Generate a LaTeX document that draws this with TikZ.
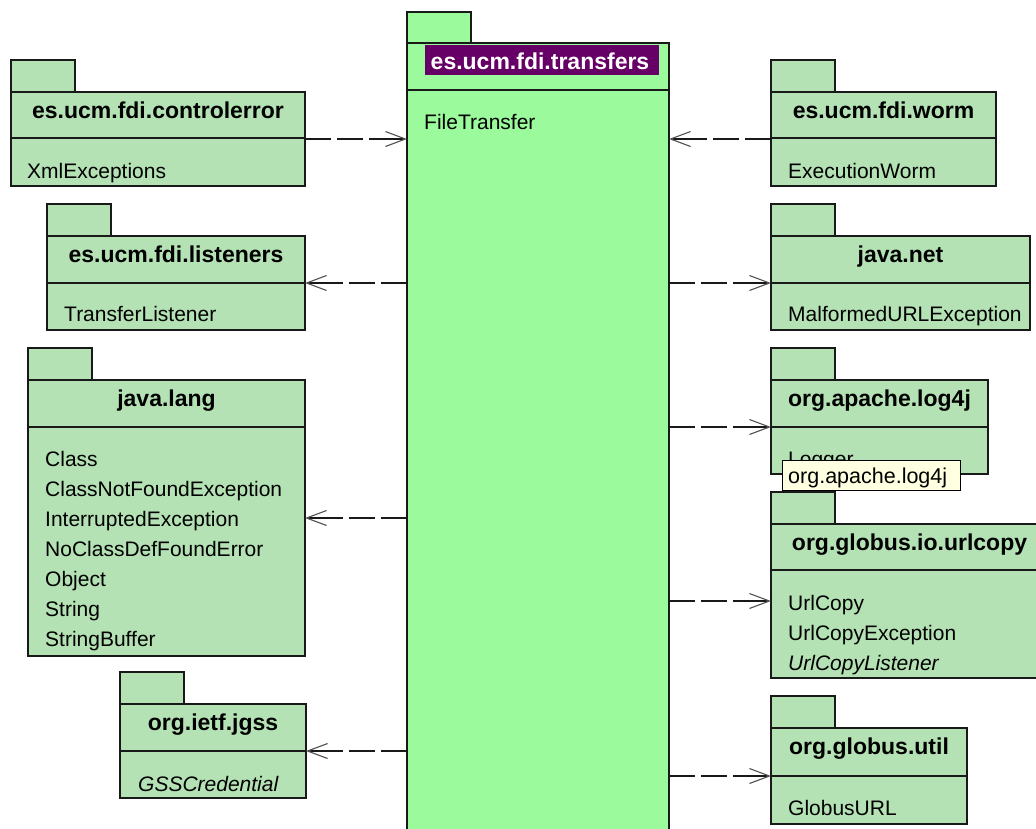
\documentclass[tikz,border=0pt]{standalone}
\usepackage{fontspec}
\setmainfont{Liberation Sans}
\usetikzlibrary{arrows.meta,calc}

\definecolor{pkgfill}{RGB}{180,226,180}
\definecolor{mainfill}{RGB}{155,250,155}
\definecolor{titlebg}{RGB}{102,0,102}
\definecolor{tipfill}{RGB}{255,255,225}
\definecolor{edge}{RGB}{25,25,25}
\definecolor{barb}{RGB}{80,80,80}

% one UML package: tab, name compartment, contents compartment,
% plus left/right attachment points at mid height
% #1 name, #2 left x, #3 top of name compartment, #4 width,
% #5 name compartment height, #6 contents height
\newcommand{\umlpkg}[6]{%
  \node[tabbox, anchor=south west] (#1-tab) at (#2,#3) {};
  \node[pkgbox, minimum width=#4pt, minimum height=#5pt] (#1) at (#2,#3) {};
  \node[pkgbox, minimum width=#4pt, minimum height=#6pt] (#1-body) at (#2,#3+#5) {};
  \coordinate (#1-L) at ($(#1.north west)!0.5!(#1-body.south west)$);
  \coordinate (#1-R) at ($(#1.north east)!0.5!(#1-body.south east)$);
}

\begin{document}
\begin{tikzpicture}[x=1pt,y=-1pt,
  pkgbox/.style={draw=edge, line width=1.7pt, fill=pkgfill, rectangle,
    inner sep=0pt, outer sep=0pt, anchor=north west},
  tabbox/.style={pkgbox, minimum width=64pt, minimum height=32pt},
  pkgtitle/.style={anchor=base, inner sep=0pt,
    font=\fontsize{23}{27}\selectfont\bfseries},
  item/.style={anchor=base west, inner sep=0pt,
    font=\fontsize{21}{25}\selectfont},
  dep/.style={draw=edge, line width=1.6pt,
    dash pattern=on 26pt off 6pt on 26pt off 6pt on 60pt off 6pt,
    -{Straight Barb[length=20pt,width=15pt,line width=1.1pt,color=barb]}}]

\useasboundingbox (0,0) rectangle (1036,828);
\fill[white] (0,0) rectangle (1036,828);
\clip (0,0) rectangle (1036,828);

% central package
\node[tabbox, fill=mainfill, minimum height=31pt, anchor=south west] (tr-tab) at (407,43) {};
\node[pkgbox, fill=mainfill, minimum width=262pt, minimum height=47pt] (tr) at (407,43) {};
\node[pkgbox, fill=mainfill, minimum width=262pt, minimum height=760pt] (tr-body) at (407,90) {};
\node[fill=titlebg, inner sep=0pt, minimum width=234pt, minimum height=30pt, anchor=north]
  (tr-hl) at ($(tr.north)+(4,2)$) {};
\node[pkgtitle, text=white] (tr-name) at ($(tr.north)+(2,26)$) {es.ucm.fdi.transfers};
\node[item] (tr-i1) at ($(tr-body.north west)+(17,39)$) {FileTransfer};

% left column
\umlpkg{cerr}{11}{92}{294}{46}{48}
\node[pkgtitle] (cerr-name) at ($(cerr.north)+(0,26)$) {es.ucm.fdi.controlerror};
\node[item] (cerr-i1) at ($(cerr-body.north west)+(16,40)$) {XmlExceptions};

\umlpkg{lst}{47}{236}{258}{47}{47}
\node[pkgtitle] (lst-name) at ($(lst.north)+(0,26)$) {es.ucm.fdi.listeners};
\node[item] (lst-i1) at ($(lst-body.north west)+(17,38)$) {TransferListener};

\umlpkg{jl}{28}{380}{277}{47}{229}
\node[pkgtitle] (jl-name) at ($(jl.north)+(0,26)$) {java.lang};
\foreach \t [count=\i] in {Class,ClassNotFoundException,InterruptedException,
    NoClassDefFoundError,Object,String,StringBuffer}
  \node[item] (jl-i\i) at ($(jl-body.north west)+(17,9+30*\i)$) {\t};

\umlpkg{jgss}{120}{704}{186}{47}{47}
\node[pkgtitle] (jgss-name) at ($(jgss.north)+(0,26)$) {org.ietf.jgss};
\node[item, font=\fontsize{21}{25}\selectfont\itshape] (jgss-i1)
  at ($(jgss-body.north west)+(18,40)$) {GSSCredential};

% right column
\umlpkg{worm}{771}{92}{225}{46}{48}
\node[pkgtitle] (worm-name) at ($(worm.north)+(0,26)$) {es.ucm.fdi.worm};
\node[item] (worm-i1) at ($(worm-body.north west)+(17,40)$) {ExecutionWorm};

\umlpkg{net}{771}{236}{259}{47}{47}
\node[pkgtitle] (net-name) at ($(net.north)+(0,26)$) {java.net};
\node[item] (net-i1) at ($(net-body.north west)+(17,38)$) {MalformedURLException};

\umlpkg{log}{771}{380}{217}{47}{47}
\node[pkgtitle] (log-name) at ($(log.north)+(0,26)$) {org.apache.log4j};
\node[item] (log-i1) at ($(log-body.north west)+(17,39)$) {Logger};

\umlpkg{url}{771}{524}{277}{46}{108}
\node[pkgtitle] (url-name) at ($(url.north)+(0,26)$) {org.globus.io.urlcopy};
\node[item] (url-i1) at ($(url-body.north west)+(17,40)$) {UrlCopy};
\node[item] (url-i2) at ($(url-body.north west)+(17,70)$) {UrlCopyException};
\node[item, font=\fontsize{21}{25}\selectfont\itshape] (url-i3)
  at ($(url-body.north west)+(17,100)$) {UrlCopyListener};

\umlpkg{gu}{771}{728}{196}{48}{48}
\node[pkgtitle] (gu-name) at ($(gu.north)+(0,26)$) {org.globus.util};
\node[item] (gu-i1) at ($(gu-body.north west)+(17,39)$) {GlobusURL};

% hover tooltip over the log4j package
\node[draw=black, line width=1pt, fill=tipfill, inner sep=0pt, anchor=north west,
  minimum width=178pt, minimum height=30pt] (tip) at (782,460) {};
\node[item, font=\fontsize{21.5}{25}\selectfont] (tip-text)
  at ($(tip.north west)+(6,23)$) {org.apache.log4j};

% dependencies
\draw[dep] (cerr-R) -- (cerr-R -| tr-body.west);
\draw[dep] (worm-L) -- (worm-L -| tr-body.east);
\draw[dep] (lst-R -| tr-body.west) -- (lst-R);
\draw[dep] (jl-R -| tr-body.west) -- (jl-R);
\draw[dep] (jgss-R -| tr-body.west) -- (jgss-R);
\draw[dep] (net-L -| tr-body.east) -- (net-L);
\draw[dep] (log-L -| tr-body.east) -- (log-L);
\draw[dep] (url-L -| tr-body.east) -- (url-L);
\draw[dep] (gu-L -| tr-body.east) -- (gu-L);
\end{tikzpicture}
\end{document}
